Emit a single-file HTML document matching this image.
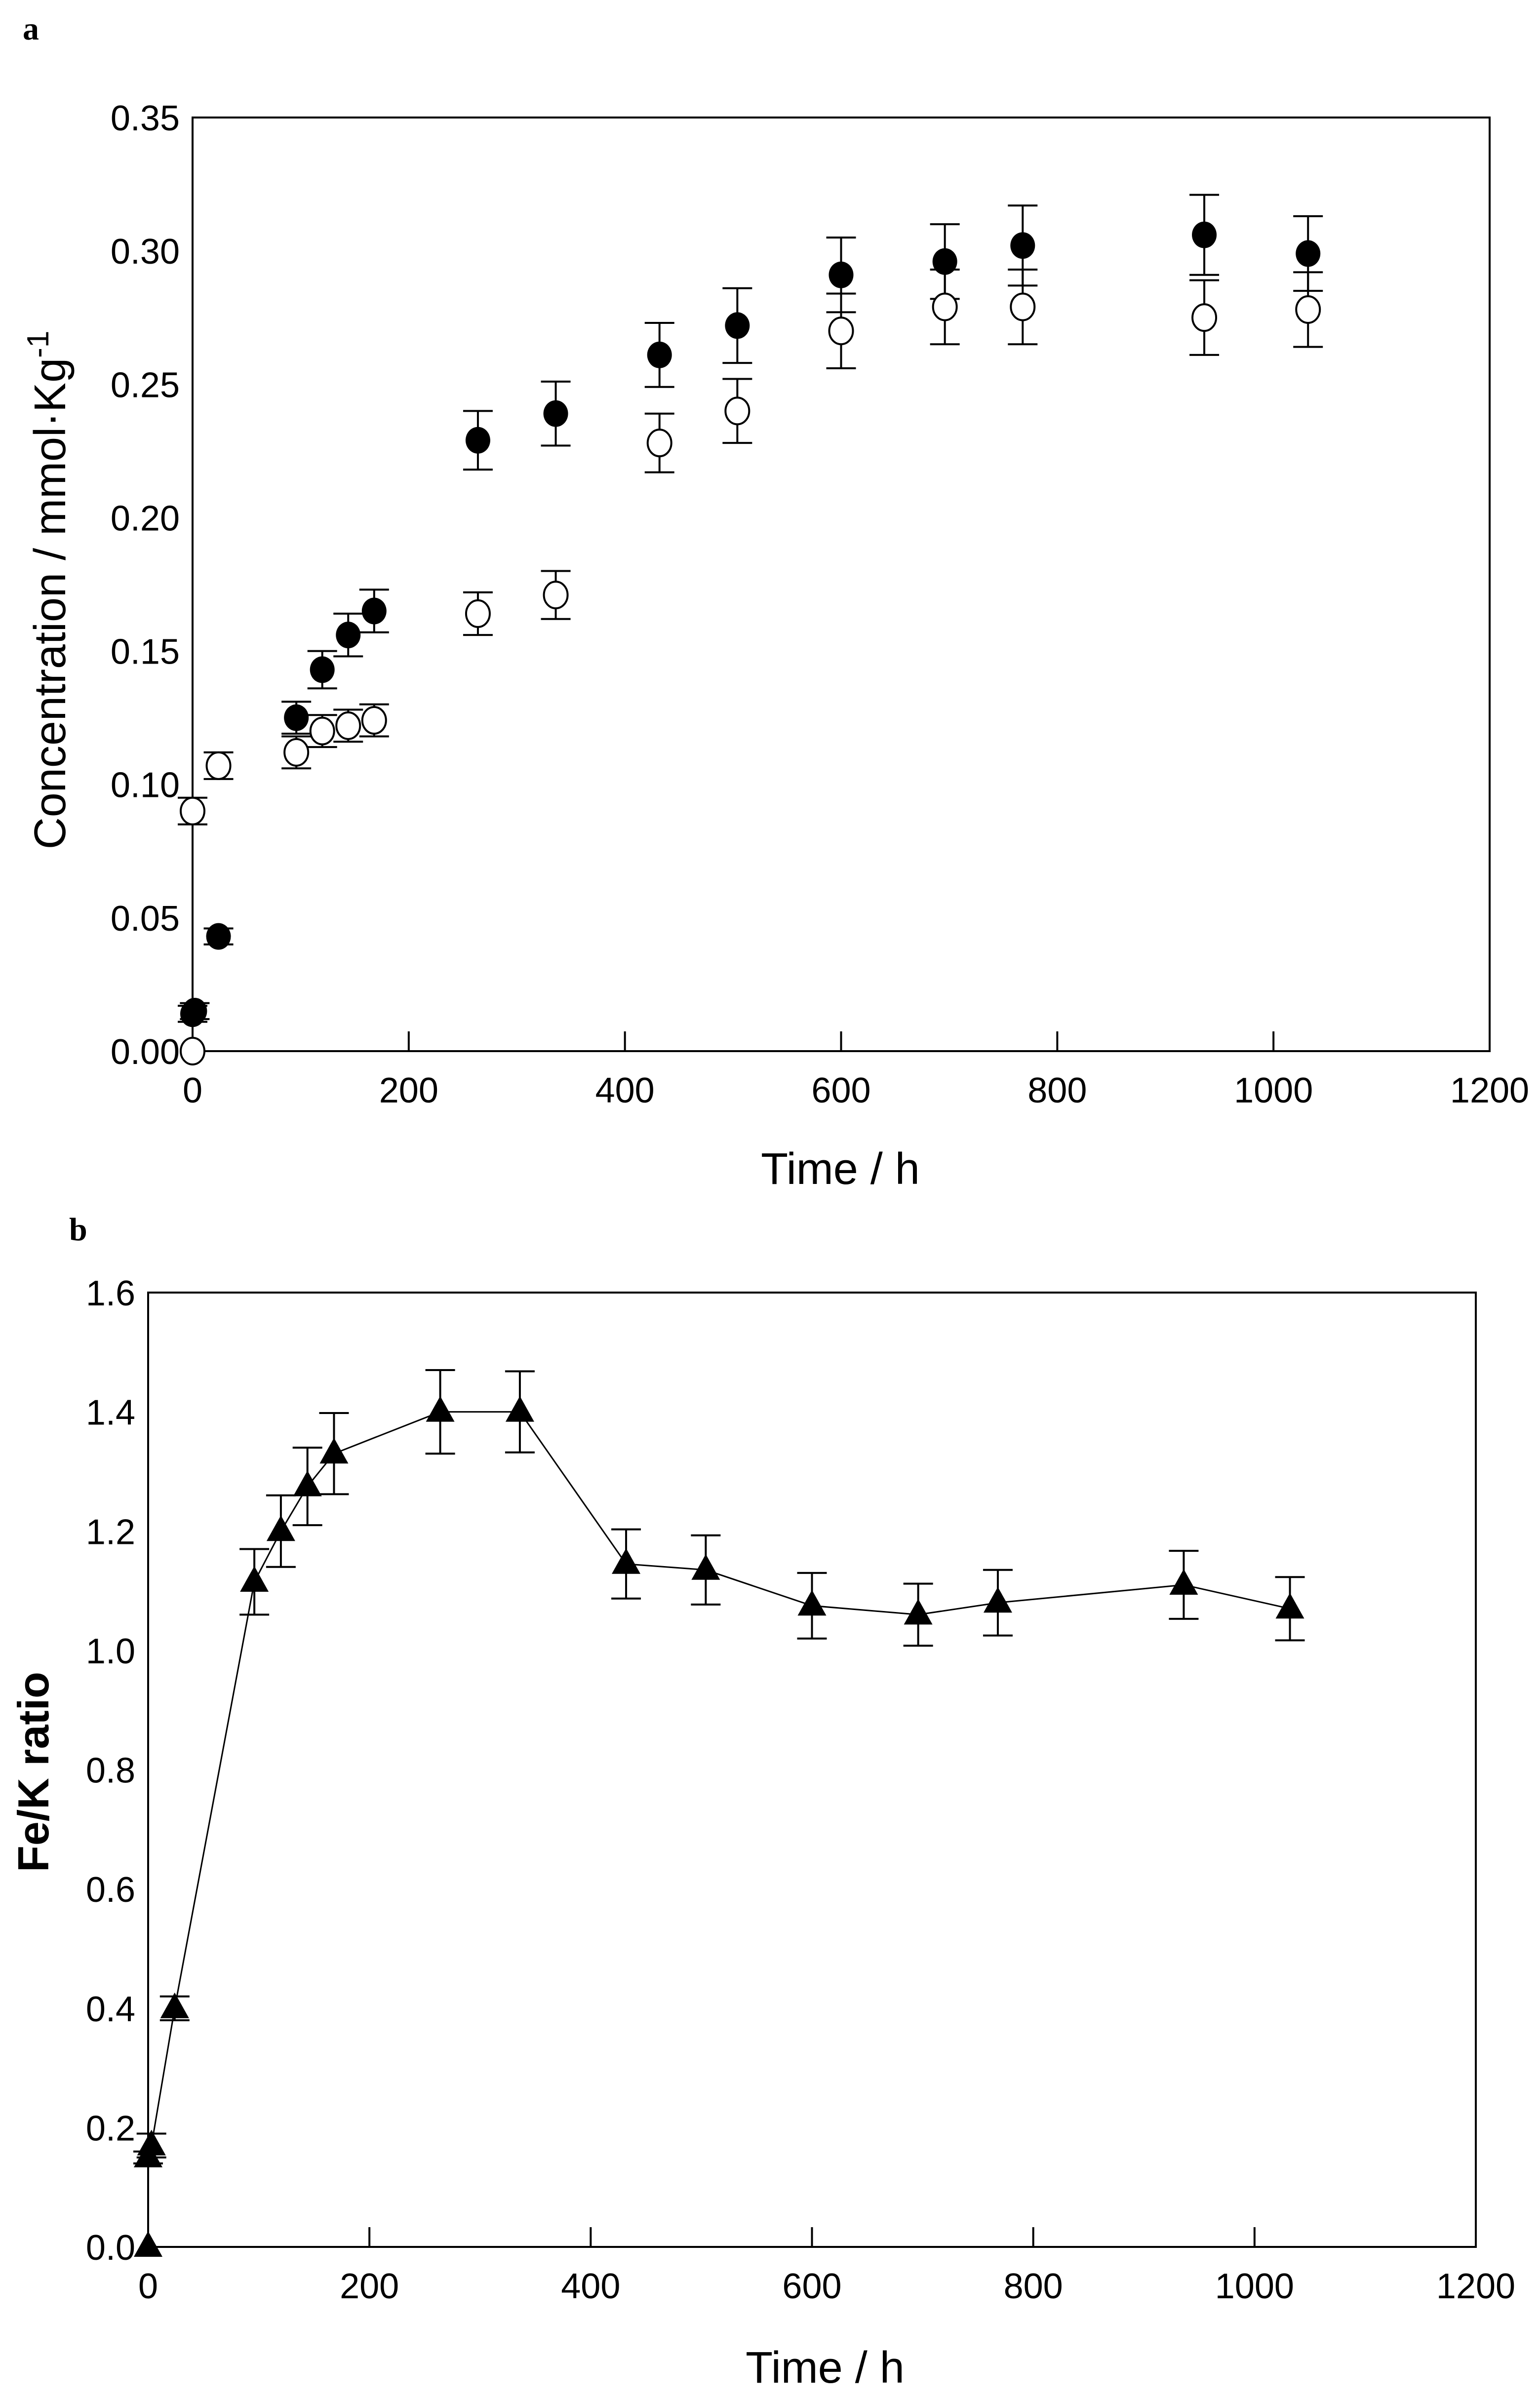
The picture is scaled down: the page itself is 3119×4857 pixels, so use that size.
<!DOCTYPE html>
<html><head><meta charset="utf-8">
<style>
html,body{margin:0;padding:0;background:#fff;}
svg{display:block;}
text{font-family:"Liberation Sans",Arial,sans-serif;fill:#000;}
</style></head>
<body>
<svg id="fig" width="3119" height="4857" viewBox="0 0 3119 4857" xmlns="http://www.w3.org/2000/svg">
<rect width="3119" height="4857" fill="#fff"/>
<text x="46" y="80" style="font-family:'Liberation Serif',serif" font-weight="bold" font-size="66">a</text>
<text x="140" y="2512" style="font-family:'Liberation Serif',serif" font-weight="bold" font-size="66">b</text>
<g id="ga"></g>
<g id="gb"></g>
</svg>
<script>
// ----- Chart a data -----
const aXTicks = [0,200,400,600,800,1000,1200];
const aYTicks = ["0.00","0.05","0.10","0.15","0.20","0.25","0.30","0.35"];
const filledT = [0,2,24,96,120,144,168,264,336,432,504,600,696,768,936,1032];
const filledC = [0.014,0.015,0.043,0.125,0.143,0.156,0.165,0.229,0.239,0.261,0.272,0.291,0.296,0.302,0.306,0.299];
const filledE = [0.003,0.003,0.003,0.006,0.007,0.008,0.008,0.011,0.012,0.012,0.014,0.014,0.014,0.015,0.015,0.014];
const openT = [0,0,24,96,120,144,168,264,336,432,504,600,696,768,936,1032];
const openC = [0.000,0.090,0.107,0.112,0.120,0.122,0.124,0.164,0.171,0.228,0.240,0.270,0.279,0.279,0.275,0.278];
const openE = [0.000,0.005,0.005,0.006,0.006,0.006,0.006,0.008,0.009,0.011,0.012,0.014,0.014,0.014,0.014,0.014];
// ----- Chart b data -----
const bXTicks = [0,200,400,600,800,1000,1200];
const bYTicks = ["0.0","0.2","0.4","0.6","0.8","1.0","1.2","1.4","1.6"];
const ratioT = [0,0,3,24,96,120,144,168,264,336,432,504,600,696,768,936,1032];
const ratioV = [0.0,0.15,0.17,0.40,1.115,1.20,1.275,1.33,1.40,1.40,1.145,1.135,1.075,1.06,1.08,1.11,1.07];
const ratioE = [0.0,0.01,0.02,0.02,0.055,0.06,0.065,0.068,0.07,0.068,0.058,0.058,0.055,0.052,0.055,0.057,0.053];

const NS="http://www.w3.org/2000/svg";
function mk(parent,tag,attrs){const e=document.createElementNS(NS,tag);for(const k in attrs)e.setAttribute(k,attrs[k]);parent.appendChild(e);return e;}

function frame(g,L,R,T,B,xTicks,yTicks,xs,ys,yLabX){
  const r=mk(g,'rect',{x:L,y:T,width:R-L,height:B-T,fill:'none',stroke:'#000','stroke-width':4});
  
  
  xTicks.forEach(v=>{
    const x=xs(v);
    if(v>0&&v<1200){const t=mk(g,'line',{x1:x,x2:x,y1:B,y2:B-40,stroke:'#000','stroke-width':4});
      
      }
    const tx=mk(g,'text',{x:x,y:B+104,'text-anchor':'middle','font-size':72});
    
    
    tx.textContent=v;
  });
  yTicks.forEach(s=>{
    const y=ys(parseFloat(s));
    const tx=mk(g,'text',{x:yLabX,y:y+26,'text-anchor':'end','font-size':72});
    
    
    tx.textContent=s;
  });
}
function errbar(g,x,y1,y2,name){
  const cap=30;
  const l=mk(g,'path',{d:`M${x},${y1}V${y2}M${x-cap},${y1}H${x+cap}M${x-cap},${y2}H${x+cap}`,stroke:'#000','stroke-width':4,fill:'none'});
  
  
}

// Chart a
(function(){
  const g=document.getElementById('ga');
  const L=390,R=3017,T=238,B=2129;
  const xs=v=>L+(v/1200)*(R-L);
  const ys=v=>B-(v/0.35)*(B-T);
  frame(g,L,R,T,B,aXTicks,aYTicks,xs,ys,364);
  const seg=mk(g,'line',{x1:xs(0),x2:xs(0),y1:ys(0),y2:ys(0.085),stroke:'#000','stroke-width':4});
  
  
  openT.forEach((t,i)=>{ if(openE[i]>0) errbar(g,xs(t),ys(openC[i]-openE[i]),ys(openC[i]+openE[i]),'open-error-bar'); });
  filledT.forEach((t,i)=>errbar(g,xs(t),ys(filledC[i]-filledE[i]),ys(filledC[i]+filledE[i]),'filled-error-bar'));
  openT.forEach((t,i)=>{const c=mk(g,'ellipse',{cx:xs(t),cy:ys(openC[i]),rx:24,ry:27,fill:'#fff',stroke:'#000','stroke-width':4});
    
    });
  filledT.forEach((t,i)=>{const c=mk(g,'ellipse',{cx:xs(t),cy:ys(filledC[i]),rx:25,ry:27,fill:'#000'});
    
    });
  const xt=mk(g,'text',{x:1702,y:2398,'text-anchor':'middle','font-size':90});
  
  
  xt.textContent='Time / h';
  const yt=mk(g,'text',{x:0,y:0,'text-anchor':'middle','font-size':90,transform:'translate(132,1195) rotate(-90)'});
  
  
  yt.innerHTML='Concentration / mmol·Kg<tspan dy="-34" font-size="62">-1</tspan>';
})();

// Chart b
(function(){
  const g=document.getElementById('gb');
  const L=300,R=2989,T=2618,B=4551;
  const xs=v=>L+(v/1200)*(R-L);
  const ys=v=>B-(v/1.6)*(B-T);
  frame(g,L,R,T,B,bXTicks,bYTicks,xs,ys,274);
  const pts=ratioT.map((t,i)=>xs(t)+','+ys(ratioV[i])).join(' ');
  const pl=mk(g,'polyline',{points:pts,fill:'none',stroke:'#000','stroke-width':3});
  
  
  ratioT.forEach((t,i)=>{ if(ratioE[i]>0) errbar(g,xs(t),ys(ratioV[i]-ratioE[i]),ys(ratioV[i]+ratioE[i]),'ratio-error-bar'); });
  ratioT.forEach((t,i)=>{const x=xs(t),y=ys(ratioV[i]);
    const p=mk(g,'path',{d:`M${x},${y-32}L${x+29},${y+20}L${x-29},${y+20}Z`,fill:'#000'});
    
    });
  const xt=mk(g,'text',{x:1671,y:4826,'text-anchor':'middle','font-size':90});
  
  
  xt.textContent='Time / h';
  const yt=mk(g,'text',{x:0,y:0,'text-anchor':'middle','font-size':88,'font-weight':'bold',transform:'translate(98,3589) rotate(-90)'});
  
  
  yt.textContent='Fe/K ratio';
})();
</script>
</body></html>
